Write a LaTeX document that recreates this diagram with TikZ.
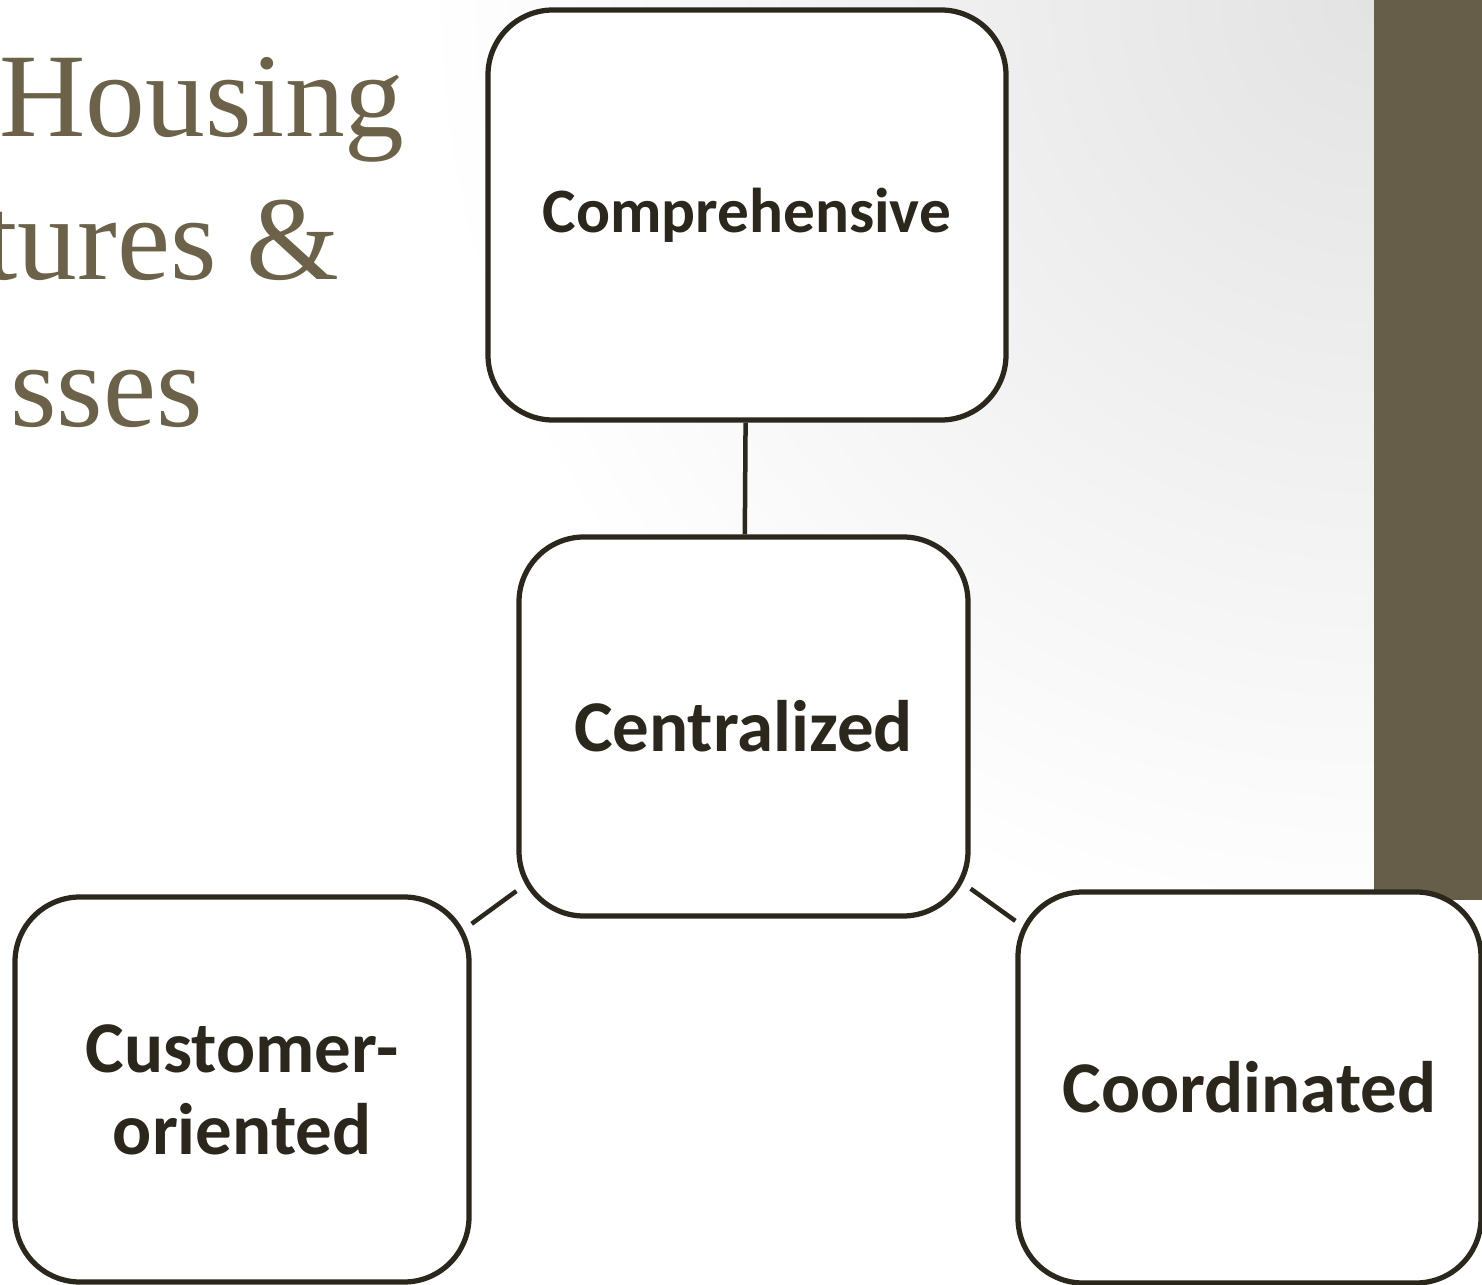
\documentclass[tikz,border=0pt]{standalone}
\usepackage{fontspec}
\setsansfont{Carlito}
\newfontfamily\titlefont{Liberation Serif}
\definecolor{barolive}{HTML}{665E48}
\definecolor{ink}{HTML}{2B271C}
\definecolor{titlecol}{HTML}{6B6249}
\tikzset{
  box node/.style={
    rounded corners=13mm,
    draw=ink,
    line width=1.05mm,
    fill=white,
    align=center,
    inner sep=0pt,
    text=ink,
    font=\sffamily\bfseries\fontsize{41.5}{46.5}\selectfont,
  },
  title node/.style={
    anchor=base east,
    inner sep=0pt,
    text=titlecol,
    font=\titlefont\fontsize{68}{80}\selectfont,
  },
}

\begin{document}
\begin{tikzpicture}[x=0.2mm, y=-0.2mm]
        \useasboundingbox (0,0) rectangle (1482,1285);
        \begin{scope}
          \clip (0,0) rectangle (1374,1285);
          \shade[inner color=black!11, outer color=white] (1374,0) circle (190mm);
        \end{scope}
        \fill[barolive] (1374,0) rectangle (1482,900);

        \node[title node] (housing)   at (405,137) {Housing};
        \node[title node] (structures) at (340,280) {tures \&};
        \node[title node] (processes) at (203,427) {sses};

        \node[box node, minimum width=103.6mm, minimum height=82mm,
              font=\sffamily\bfseries\fontsize{36}{40}\selectfont] (comp)  at (747,215)    {Comprehensive};
        \node[box node, minimum width=89.8mm,  minimum height=75.8mm] (cent)  at (743.5,726.5) {Centralized};
        \node[box node, minimum width=90.8mm,  minimum height=77mm]   (cust)  at (242,1089.5)  {Customer-\\oriented};
        \node[box node, minimum width=92.6mm,  minimum height=78.2mm] (coord) at (1249.5,1087.5) {Coordinated};

        \draw[ink, line width=0.9mm] (comp) to (cent);
        \draw[ink, line width=0.9mm] (cent) to (cust);
        \draw[ink, line width=0.9mm] (cent) to (coord);
      \end{tikzpicture}
\end{document}
